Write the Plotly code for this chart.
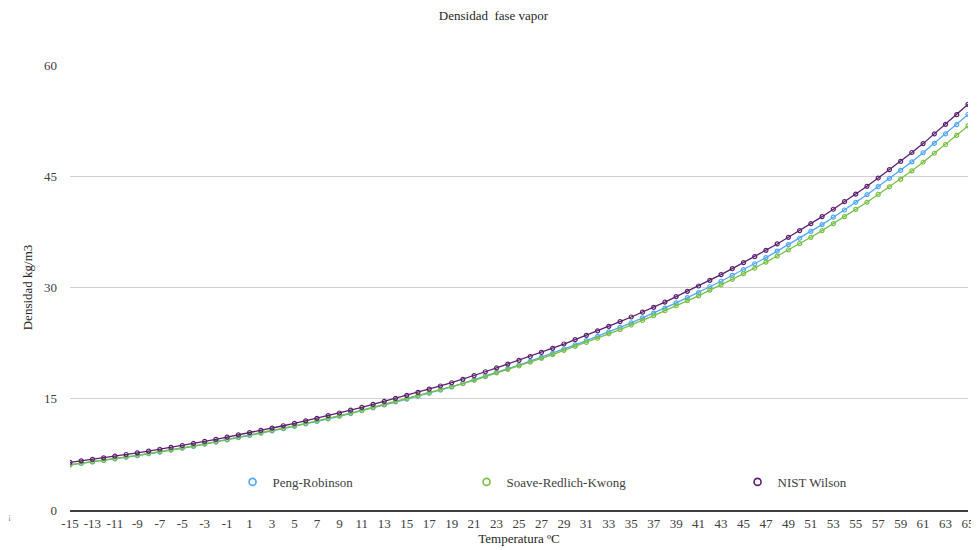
import plotly.graph_objects as go

temperatura = list(range(-15, 66))

peng_robinson = [
    6.07, 6.27, 6.47, 6.67, 6.89, 7.11, 7.34, 7.58, 7.81, 8.07, 8.33, 8.59, 8.88, 9.16, 9.45, 9.76,
    10.06, 10.35, 10.66, 10.97, 11.28, 11.61, 11.94, 12.29, 12.64, 13.00, 13.38, 13.77, 14.17, 14.56,
    14.95, 15.35, 15.77, 16.18, 16.61, 17.06, 17.54, 18.04, 18.56, 19.07, 19.55, 20.06, 20.59, 21.12,
    21.71, 22.27, 22.84, 23.42, 24.02, 24.63, 25.24, 25.90, 26.54, 27.23, 27.93, 28.63, 29.32, 30.10,
    30.84, 31.63, 32.42, 33.20, 34.03, 34.90, 35.78, 36.64, 37.56, 38.48, 39.48, 40.45, 41.49, 42.51,
    43.60, 44.70, 45.78, 46.95, 48.17, 49.43, 50.70, 51.97, 53.33,
]

soave_redlich_kwong = [
    6.10, 6.30, 6.50, 6.70, 6.92, 7.15, 7.38, 7.62, 7.85, 8.11, 8.37, 8.63, 8.92, 9.21, 9.50, 9.81,
    10.11, 10.40, 10.71, 11.02, 11.34, 11.67, 12.00, 12.35, 12.70, 13.06, 13.45, 13.84, 14.24, 14.63,
    15.00, 15.38, 15.79, 16.18, 16.59, 17.03, 17.49, 17.97, 18.49, 18.97, 19.43, 19.92, 20.43, 20.95,
    21.51, 22.05, 22.60, 23.16, 23.76, 24.33, 24.94, 25.56, 26.20, 26.88, 27.54, 28.23, 28.88, 29.65,
    30.35, 31.09, 31.87, 32.60, 33.42, 34.24, 35.06, 35.91, 36.77, 37.67, 38.61, 39.56, 40.54, 41.49,
    42.55, 43.58, 44.59, 45.73, 46.89, 48.10, 49.28, 50.51, 51.78,
]

nist_wilson = [
    6.43, 6.63, 6.83, 7.04, 7.26, 7.48, 7.71, 7.95, 8.19, 8.44, 8.70, 8.97, 9.25, 9.53, 9.82, 10.12,
    10.43, 10.73, 11.04, 11.36, 11.68, 12.02, 12.36, 12.72, 13.08, 13.46, 13.84, 14.24, 14.65, 15.06,
    15.46, 15.87, 16.29, 16.72, 17.16, 17.62, 18.12, 18.64, 19.15, 19.68, 20.18, 20.70, 21.25, 21.80,
    22.38, 22.96, 23.55, 24.14, 24.76, 25.39, 26.02, 26.67, 27.33, 28.04, 28.76, 29.48, 30.20, 30.97,
    31.73, 32.54, 33.35, 34.16, 35.01, 35.87, 36.77, 37.66, 38.60, 39.55, 40.55, 41.57, 42.60, 43.64,
    44.76, 45.89, 47.00, 48.20, 49.40, 50.70, 52.00, 53.30, 54.70,
]

x_ticks = list(range(-15, 66, 2))
y_ticks = [0, 15, 30, 45, 60]

series = [
    ("Peng-Robinson", peng_robinson, "#4da6ff", "legend"),
    ("Soave-Redlich-Kwong", soave_redlich_kwong, "#77c043", "legend2"),
    ("NIST Wilson", nist_wilson, "#5b1f6f", "legend3"),
]

FONT = "Liberation Serif, DejaVu Serif, serif"

fig = go.Figure()
for name, vals, color, _ in series:
    fig.add_trace(go.Scatter(
        x=temperatura, y=vals, mode="lines+markers", name=name, showlegend=False,
        line=dict(color=color, width=1.3),
        marker=dict(symbol="circle-open", size=4, color=color, line=dict(width=1.2, color=color)),
    ))
for name, vals, color, lg in series:
    fig.add_trace(go.Scatter(
        x=[None], y=[None], mode="markers", name=name, legend=lg, showlegend=True,
        marker=dict(symbol="circle-open", size=7, color=color, line=dict(width=1.6, color=color)),
    ))

leg_common = dict(orientation="h", yanchor="middle", y=0.063, xanchor="left",
                  bgcolor="rgba(0,0,0,0)", itemwidth=30,
                  font=dict(family=FONT, size=13, color="#404040"))

# figure sits 8 px in from the page's top-left corner (page body margin)
fig.update_layout(
    width=971, height=542,
    margin=dict(l=62, r=11, t=57, b=40, autoexpand=False),
    paper_bgcolor="white", plot_bgcolor="white",
    font=dict(family=FONT, size=13, color="#404040"),
    title=dict(text="Densidad  fase vapor", x=0.5, xanchor="center", y=0.987, yanchor="middle",
               font=dict(family=FONT, size=13, color="#262626")),
    legend=dict(x=0.181, **leg_common),
    legend2=dict(x=0.4416, **leg_common),
    legend3=dict(x=0.7434, **leg_common),
    xaxis=dict(
        range=[-15, 65], tickmode="array", tickvals=x_ticks, ticktext=[str(v) for v in x_ticks],
        showgrid=False, zeroline=False, showline=True, linecolor="#404040", linewidth=2,
        ticks="", automargin=False, tickfont=dict(family=FONT, size=13, color="#404040"),
        title=dict(text="Temperatura ºC", font=dict(family=FONT, size=13, color="#262626"), standoff=4),
    ),
    yaxis=dict(
        range=[0, 60], tickmode="array", tickvals=y_ticks,
        showgrid=True, gridcolor="#d0d0d0", gridwidth=1, zeroline=False, showline=False,
        ticks="", automargin=False, ticklabelstandoff=12,
        tickfont=dict(family=FONT, size=13, color="#404040"),
        title=dict(text="Densidad kg/m3", font=dict(family=FONT, size=13, color="#262626"), standoff=8),
    ),
)

fig.add_annotation(text="¡", xref="paper", yref="paper", showarrow=False,
                   x=-60 / 898, y=-6 / 445, xanchor="center", yanchor="middle",
                   font=dict(family=FONT, size=9, color="#808080"))

fig.write_html("out.html")
